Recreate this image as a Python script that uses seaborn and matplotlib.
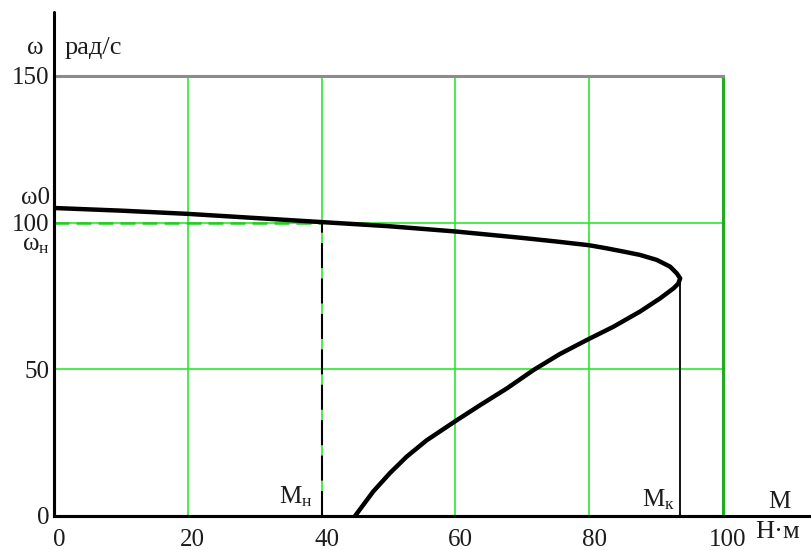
import matplotlib
matplotlib.use("Agg")
import matplotlib.pyplot as plt
from matplotlib.transforms import ScaledTranslation
import pandas as pd
import seaborn as sns

# Mechanical characteristic of the induction motor: torque M (N*m) vs speed w (rad/s)
torque = [0.0, 10.0, 20.0, 30.0, 40.0, 50.0, 60.0, 70.0, 75.0, 80.0, 82.5,
          85.0, 87.6, 90.1, 92.1, 93.1, 93.6, 93.3, 92.6, 90.6, 87.6, 83.6,
          79.9, 75.6, 71.7, 67.7, 63.7, 60.1, 55.7, 52.7, 50.2, 47.7, 45.0]
speed = [105.0, 104.1, 103.0, 101.6, 100.2, 98.8, 97.0, 94.8, 93.6, 92.3, 91.3,
         90.2, 89.0, 87.3, 85.0, 82.7, 81.0, 79.2, 77.6, 74.2, 69.7, 64.5,
         60.3, 55.2, 49.8, 43.5, 37.8, 32.5, 25.8, 20.2, 14.6, 8.3, 0.0]

# Rated point and breakdown torque
M_nom, w_nom = 40.0, 100.0
M_crit, w_crit = 93.6, 81.0

x_ticks = [0, 20, 40, 60, 80, 100]
y_ticks = [0, 50, 100, 150]

sns.set_style("white")
plt.rcParams["font.family"] = ["Liberation Serif", "DejaVu Serif"]
plt.rcParams["mathtext.fontset"] = "custom"
plt.rcParams["mathtext.rm"] = "Liberation Serif"

txt_color = "#1c1c1c"
fs = 18
fs_unit = 19

fig = plt.figure(figsize=(8.11, 5.5), dpi=100)
ax = fig.add_axes([54 / 811, 34 / 550, 669 / 811, 440 / 550])

df = pd.DataFrame({"M": torque, "w": speed})
sns.lineplot(data=df, x="M", y="w", sort=False, estimator=None, ax=ax,
             color="black", lw=3.2, solid_capstyle="round",
             solid_joinstyle="round", zorder=5)

ax.set_xlim(0, 100)
ax.set_ylim(0, 150)
ax.set_xticks(x_ticks)
ax.set_yticks(y_ticks)
ax.set_xticklabels([str(v) for v in x_ticks])
ax.set_yticklabels([str(v) for v in y_ticks])
ax.tick_params(axis="both", length=0, labelsize=fs, colors=txt_color)
ax.tick_params(axis="x", pad=9)
ax.tick_params(axis="y", pad=3)
for lab in ax.get_xticklabels():
    lab.set_transform(lab.get_transform() + ScaledTranslation(5 / 100, 0, fig.dpi_scale_trans))
ax.set_xlabel("")
ax.set_ylabel("")

ax.grid(True, color="#2ee82e", lw=1.2)
ax.set_axisbelow(True)

for side, col in [("left", "black"), ("bottom", "black"),
                  ("top", "#8c8c8c"), ("right", "#22aa22")]:
    ax.spines[side].set_visible(True)
    ax.spines[side].set_color(col)
    ax.spines[side].set_linewidth(2.2)
    ax.spines[side].set_zorder(6)

# Axis lines running past the plot frame
ax.plot([0, 0], [0, 1.145], transform=ax.transAxes, clip_on=False,
        color="black", lw=2.2, zorder=7)
ax.plot([0, 1.1316], [0, 0], transform=ax.transAxes, clip_on=False,
        color="black", lw=2.2, zorder=7)

# Rated point guides
ax.plot([0, M_nom], [w_nom, w_nom], color="#22cc22", lw=1.8,
        dashes=(6, 2.8), zorder=4)
ax.plot([M_nom, M_nom], [0, w_nom], color="black", lw=1.5,
        dashes=(12, 5), zorder=4)
# Breakdown torque line
ax.plot([M_crit, M_crit], [0, w_crit], color="black", lw=1.3, zorder=4)

# Annotations
ax.text(-2.8, 159.6, "ω", ha="center", va="center", fontsize=fs,
        color=txt_color, clip_on=False)
ax.text(1.6, 159.6, "рад/с", ha="left", va="center", fontsize=fs_unit,
        color=txt_color, clip_on=False)
ax.text(-0.6, 108.5, "ω0", ha="right", va="center", fontsize=fs,
        color=txt_color, clip_on=False)
ax.text(-0.6, 92.4, r"$\mathregular{ω_н}$", ha="right", va="center", fontsize=fs,
        color=txt_color, clip_on=False)
ax.text(38.7, 6.5, r"$\mathregular{M_н}$", ha="right", va="center", fontsize=fs,
        color=txt_color)
ax.text(92.8, 5.5, r"$\mathregular{M_к}$", ha="right", va="center", fontsize=fs,
        color=txt_color)
ax.text(108.5, 4.8, "M", ha="center", va="center", fontsize=fs,
        color=txt_color, clip_on=False)
ax.text(108.1, -5.5, "Н·м", ha="center", va="center", fontsize=fs_unit,
        color=txt_color, clip_on=False)

fig.savefig("out.png", dpi=100, facecolor="white")
